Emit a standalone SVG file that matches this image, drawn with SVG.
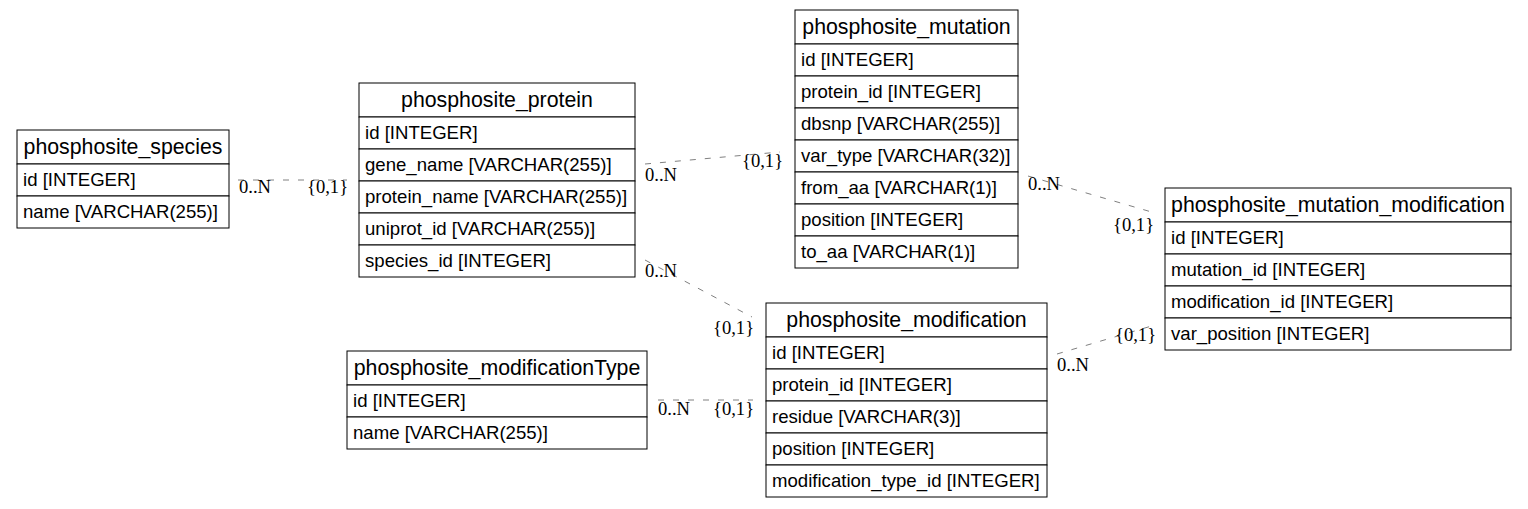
<svg xmlns="http://www.w3.org/2000/svg" width="1528" height="509" viewBox="0 0 1528 509">
<style>
.cell{fill:#fff;stroke:#000;stroke-width:1}
.hd{font-family:"Liberation Sans",Arial,sans-serif;font-size:21.3px;text-anchor:middle;fill:#000}
.rw{font-family:"Liberation Sans",Arial,sans-serif;font-size:18.6px;fill:#000}
.edge{stroke:#808080;stroke-width:1;stroke-dasharray:6,9;fill:none}
.lbl{font-family:"Liberation Serif","Times New Roman",serif;font-size:18.6px;fill:#000}
</style>
<rect width="1528" height="509" fill="#fff"/>
<g id="connectors">
<line class="edge" x1="238" y1="180" x2="347" y2="180"/>
<text class="lbl" x="239" y="193">0..N</text>
<text class="lbl" x="307" y="193">{0,1}</text>
<line class="edge" x1="645" y1="164" x2="780" y2="152"/>
<text class="lbl" x="645" y="181">0..N</text>
<text class="lbl" x="742" y="167">{0,1}</text>
<line class="edge" x1="645" y1="260" x2="752" y2="317"/>
<text class="lbl" x="645" y="277">0..N</text>
<text class="lbl" x="713" y="334">{0,1}</text>
<line class="edge" x1="1028" y1="176" x2="1155" y2="213"/>
<text class="lbl" x="1028" y="190">0..N</text>
<text class="lbl" x="1113" y="231">{0,1}</text>
<line class="edge" x1="1057" y1="354" x2="1155" y2="325"/>
<text class="lbl" x="1057" y="371">0..N</text>
<text class="lbl" x="1115" y="341">{0,1}</text>
<line class="edge" x1="658" y1="400" x2="753" y2="400"/>
<text class="lbl" x="658" y="415">0..N</text>
<text class="lbl" x="713" y="415">{0,1}</text>
</g>
<g id="phosphosite_species">
<rect class="cell" x="17" y="130" width="212" height="34"/>
<rect class="cell" x="17" y="164" width="212" height="32"/>
<rect class="cell" x="17" y="196" width="212" height="32"/>
<text class="hd" x="123" y="154">phosphosite_species</text>
<text class="rw" x="23" y="186">id [INTEGER]</text>
<text class="rw" x="23" y="218">name [VARCHAR(255)]</text>
</g>
<g id="phosphosite_protein">
<rect class="cell" x="359" y="83" width="276" height="34"/>
<rect class="cell" x="359" y="117" width="276" height="32"/>
<rect class="cell" x="359" y="149" width="276" height="32"/>
<rect class="cell" x="359" y="181" width="276" height="32"/>
<rect class="cell" x="359" y="213" width="276" height="32"/>
<rect class="cell" x="359" y="245" width="276" height="32"/>
<text class="hd" x="497" y="107">phosphosite_protein</text>
<text class="rw" x="365" y="139">id [INTEGER]</text>
<text class="rw" x="365" y="171">gene_name [VARCHAR(255)]</text>
<text class="rw" x="365" y="203">protein_name [VARCHAR(255)]</text>
<text class="rw" x="365" y="235">uniprot_id [VARCHAR(255)]</text>
<text class="rw" x="365" y="267">species_id [INTEGER]</text>
</g>
<g id="phosphosite_mutation">
<rect class="cell" x="795" y="10" width="223" height="34"/>
<rect class="cell" x="795" y="44" width="223" height="32"/>
<rect class="cell" x="795" y="76" width="223" height="32"/>
<rect class="cell" x="795" y="108" width="223" height="32"/>
<rect class="cell" x="795" y="140" width="223" height="32"/>
<rect class="cell" x="795" y="172" width="223" height="32"/>
<rect class="cell" x="795" y="204" width="223" height="32"/>
<rect class="cell" x="795" y="236" width="223" height="32"/>
<text class="hd" x="906.5" y="34">phosphosite_mutation</text>
<text class="rw" x="801" y="66">id [INTEGER]</text>
<text class="rw" x="801" y="98">protein_id [INTEGER]</text>
<text class="rw" x="801" y="130">dbsnp [VARCHAR(255)]</text>
<text class="rw" x="801" y="162">var_type [VARCHAR(32)]</text>
<text class="rw" x="801" y="194">from_aa [VARCHAR(1)]</text>
<text class="rw" x="801" y="226">position [INTEGER]</text>
<text class="rw" x="801" y="258">to_aa [VARCHAR(1)]</text>
</g>
<g id="phosphosite_mutation_modification">
<rect class="cell" x="1165" y="188" width="346" height="34"/>
<rect class="cell" x="1165" y="222" width="346" height="32"/>
<rect class="cell" x="1165" y="254" width="346" height="32"/>
<rect class="cell" x="1165" y="286" width="346" height="32"/>
<rect class="cell" x="1165" y="318" width="346" height="32"/>
<text class="hd" x="1338" y="212">phosphosite_mutation_modification</text>
<text class="rw" x="1171" y="244">id [INTEGER]</text>
<text class="rw" x="1171" y="276">mutation_id [INTEGER]</text>
<text class="rw" x="1171" y="308">modification_id [INTEGER]</text>
<text class="rw" x="1171" y="340">var_position [INTEGER]</text>
</g>
<g id="phosphosite_modification">
<rect class="cell" x="766" y="303" width="281" height="34"/>
<rect class="cell" x="766" y="337" width="281" height="32"/>
<rect class="cell" x="766" y="369" width="281" height="32"/>
<rect class="cell" x="766" y="401" width="281" height="32"/>
<rect class="cell" x="766" y="433" width="281" height="32"/>
<rect class="cell" x="766" y="465" width="281" height="32"/>
<text class="hd" x="906.5" y="327">phosphosite_modification</text>
<text class="rw" x="772" y="359">id [INTEGER]</text>
<text class="rw" x="772" y="391">protein_id [INTEGER]</text>
<text class="rw" x="772" y="423">residue [VARCHAR(3)]</text>
<text class="rw" x="772" y="455">position [INTEGER]</text>
<text class="rw" x="772" y="487">modification_type_id [INTEGER]</text>
</g>
<g id="phosphosite_modificationType">
<rect class="cell" x="347" y="351" width="300" height="34"/>
<rect class="cell" x="347" y="385" width="300" height="32"/>
<rect class="cell" x="347" y="417" width="300" height="32"/>
<text class="hd" x="497" y="375">phosphosite_modificationType</text>
<text class="rw" x="353" y="407">id [INTEGER]</text>
<text class="rw" x="353" y="439">name [VARCHAR(255)]</text>
</g>
</svg>
